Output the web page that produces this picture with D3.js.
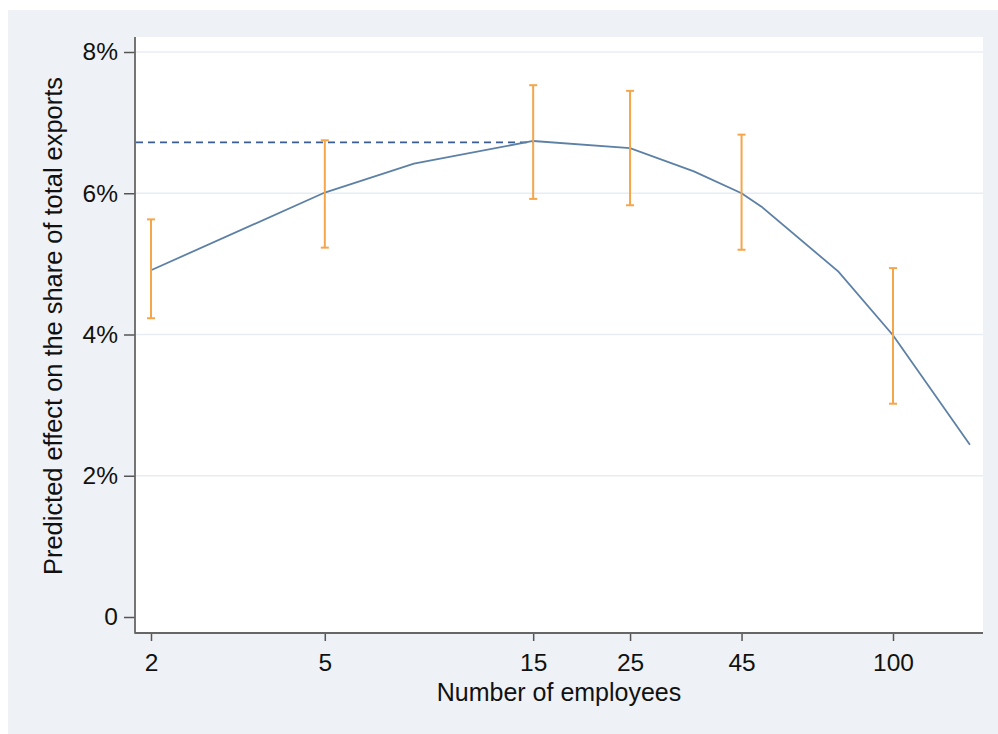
<!DOCTYPE html>
<html>
<head>
<meta charset="utf-8">
<script src="https://cdn.jsdelivr.net/npm/d3@7"></script>
<style>
  html, body { margin: 0; padding: 0; background: #ffffff; }
  svg { display: block; }
  text { font-family: "Liberation Sans", Arial, Helvetica, sans-serif; fill: #111111; }
</style>
</head>
<body>
<script>
// ---- data ----
const lineX = [2, 5, 8, 15, 25, 35, 45, 50, 75, 100, 150];
const lineY = [4.91, 6.01, 6.42, 6.74, 6.64, 6.31, 6.00, 5.81, 4.89, 3.99, 2.44];
const ciX = [2, 5, 15, 25, 45, 100];
const ciLow = [4.23, 5.23, 5.92, 5.83, 5.20, 3.02];
const ciHigh = [5.63, 6.75, 7.53, 7.45, 6.83, 4.94];
const peakLevel = 6.72;
const peakX = 15;
const xTicks = [2, 5, 15, 25, 45, 100];
const yTicks = [0, 2, 4, 6, 8];
const yTickLabels = ["0", "2%", "4%", "6%", "8%"];
const xTitle = "Number of employees";
const yTitle = "Predicted effect on the share of total exports";

// ---- layout ----
const W = 998, H = 734;
const plot = { left: 135, right: 983, top: 37, bottom: 633 };

const svg = d3.select("body").append("svg").attr("width", W).attr("height", H);

// outer panel
svg.append("rect").attr("x", 8).attr("y", 10).attr("width", W - 8).attr("height", H - 10).attr("fill", "#eef1f6");
// plot region
svg.append("rect").attr("x", plot.left).attr("y", plot.top)
  .attr("width", plot.right - plot.left).attr("height", plot.bottom - plot.top).attr("fill", "#ffffff");

const x = d3.scaleLog().domain([2, 100]).range([151, 893]);
const y = d3.scaleLinear().domain([0, 8]).range([617, 52]);

// gridlines
svg.append("g").selectAll("line").data(yTicks.filter(d => d > 0)).join("line")
  .attr("x1", plot.left).attr("x2", plot.right)
  .attr("y1", d => y(d)).attr("y2", d => y(d))
  .attr("stroke", "#e8edf4").attr("stroke-width", 1.5);

// y axis
const yAxis = d3.axisLeft(y).tickValues(yTicks)
  .tickFormat((d, i) => yTickLabels[i]).tickSize(11).tickPadding(6).tickSizeOuter(0);
const gy = svg.append("g").attr("transform", `translate(${plot.left},0)`).call(yAxis);
gy.select(".domain").remove();
gy.selectAll(".tick line").attr("stroke", "#555").attr("stroke-width", 1.5);
gy.selectAll(".tick text").style("font-size", "24.5px").attr("fill", "#111");

// x axis
const xAxis = d3.axisBottom(x).tickValues(xTicks).tickFormat(d3.format("d"))
  .tickSize(8).tickPadding(13).tickSizeOuter(0);
const gx = svg.append("g").attr("transform", `translate(0,${plot.bottom})`).call(xAxis);
gx.select(".domain").remove();
gx.selectAll(".tick line").attr("stroke", "#555").attr("stroke-width", 1.5);
gx.selectAll(".tick text").style("font-size", "24.5px").attr("fill", "#111");

// axis lines
svg.append("line").attr("x1", plot.left).attr("x2", plot.left)
  .attr("y1", plot.top).attr("y2", plot.bottom + 0.75)
  .attr("stroke", "#666").attr("stroke-width", 1.8);
svg.append("line").attr("x1", plot.left).attr("x2", plot.right)
  .attr("y1", plot.bottom).attr("y2", plot.bottom)
  .attr("stroke", "#666").attr("stroke-width", 1.8);

// dashed reference line
svg.append("line").attr("x1", plot.left + 1).attr("x2", x(peakX))
  .attr("y1", y(peakLevel)).attr("y2", y(peakLevel))
  .attr("stroke", "#3a5d93").attr("stroke-width", 1.6).attr("stroke-dasharray", "7,5");

// predicted line
const pts = lineX.map((d, i) => [d, lineY[i]]);
svg.append("path").datum(pts)
  .attr("d", d3.line().x(d => x(d[0])).y(d => y(d[1])))
  .attr("fill", "none").attr("stroke", "#5d80a6").attr("stroke-width", 1.8);

// CI bars
const ci = ciX.map((d, i) => ({ x: d, lo: ciLow[i], hi: ciHigh[i] }));
const gci = svg.append("g").attr("stroke", "#f5a54a").attr("stroke-width", 2);
gci.selectAll("line.v").data(ci).join("line").attr("class", "v")
  .attr("x1", d => x(d.x)).attr("x2", d => x(d.x))
  .attr("y1", d => y(d.lo)).attr("y2", d => y(d.hi));
gci.selectAll("line.t").data(ci).join("line").attr("class", "t")
  .attr("x1", d => x(d.x) - 4).attr("x2", d => x(d.x) + 4)
  .attr("y1", d => y(d.hi)).attr("y2", d => y(d.hi));
gci.selectAll("line.b").data(ci).join("line").attr("class", "b")
  .attr("x1", d => x(d.x) - 4).attr("x2", d => x(d.x) + 4)
  .attr("y1", d => y(d.lo)).attr("y2", d => y(d.lo));

// titles
svg.append("text").attr("x", (plot.left + plot.right) / 2).attr("y", 701)
  .attr("text-anchor", "middle").style("font-size", "25px").text(xTitle);
svg.append("text").attr("transform", `translate(62,326) rotate(-90)`)
  .attr("text-anchor", "middle").style("font-size", "25.4px").text(yTitle);
</script>
</body>
</html>
